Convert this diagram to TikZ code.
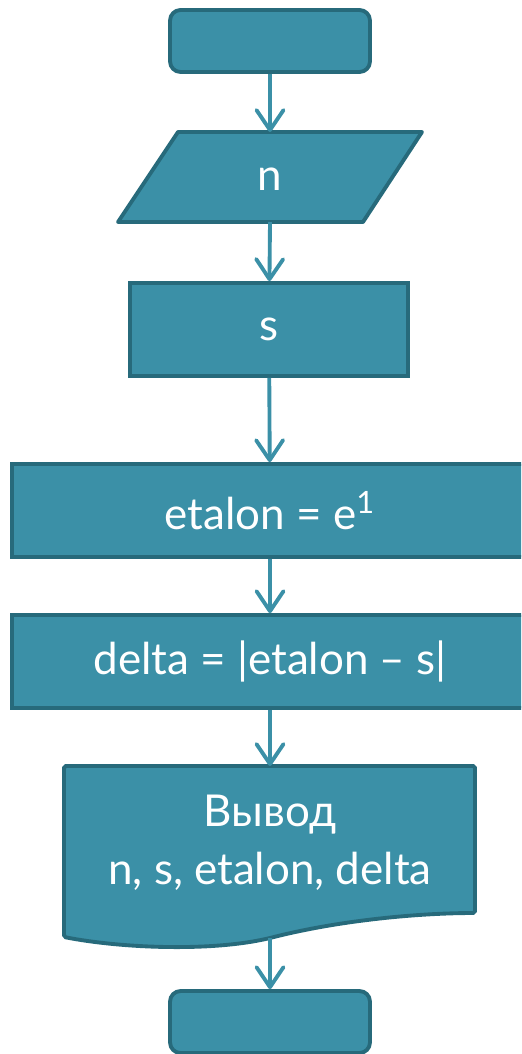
\documentclass[tikz,border=0pt]{standalone}
\usepackage{fontspec}
\setmainfont{Lato}
\usetikzlibrary{arrows.meta,positioning,calc}
\definecolor{tile}{HTML}{3B90A7}
\definecolor{rim}{HTML}{276A7B}
\tikzset{
  block/.style={draw=rim, fill=tile, line width=2.2pt, text=white,
                font=\fontsize{25}{33}\selectfont, inner sep=0pt, align=center},
  term/.style={block, rounded corners=6pt, minimum width=4cm, minimum height=1.24cm},
  proc/.style={block, minimum height=1.86cm},
  label/.style={text=white, font=\fontsize{25}{33}\selectfont, align=center},
  arrow/.style={-{Straight Barb[length=4mm,width=5.4mm,round]}, line width=2.2pt, draw=tile}
}

\begin{document}
\begin{tikzpicture}[x=0.02cm,y=-0.02cm]
        \useasboundingbox (0,0) rectangle (521,1054);
        \clip (0,0) rectangle (521,1054);
        % start / stop
        \node[term] (start) at (270,41) {};
        \node[term] (stop) at (270,1022) {};
        % input n
        \draw[block,line join=round] (178,132) -- (422,132) -- (363,222) -- (118,222) -- cycle;
        \coordinate (inTop) at (270,132);
        \coordinate (inBot) at (270,222);
        \node[label] (n) at (270,179) {n};
        % processing steps
        \node[proc,minimum width=5.56cm] (s) at (269,329.5) {s};
        \node[proc,minimum width=10.32cm] (etalon) at (270,510.5) {etalon = e\textsuperscript{1}};
        \node[proc,minimum width=10.32cm] (delta) at (270,661.5) {delta = |etalon -- s|};
        % output document
        \draw[block,rounded corners=1pt] (64,766) -- (475,766) -- (475,913)
          .. controls (420,913) and (340,920) .. (270,938)
          .. controls (210,952) and (120,948) .. (64,937) -- cycle;
        \coordinate (outTop) at (270,766);
        \coordinate (outBot) at (270,938);
        \node[label] (out) at (270,843) {Вывод\\n, s, etalon, delta};
        % flow
        \draw[arrow] (start) -- (inTop);
        \draw[arrow] (inBot) -- (s);
        \draw[arrow] (s) -- (etalon);
        \draw[arrow] (etalon) -- (delta);
        \draw[arrow] (delta) -- (outTop);
        \draw[arrow] (outBot) -- (stop);
      \end{tikzpicture}
\end{document}
